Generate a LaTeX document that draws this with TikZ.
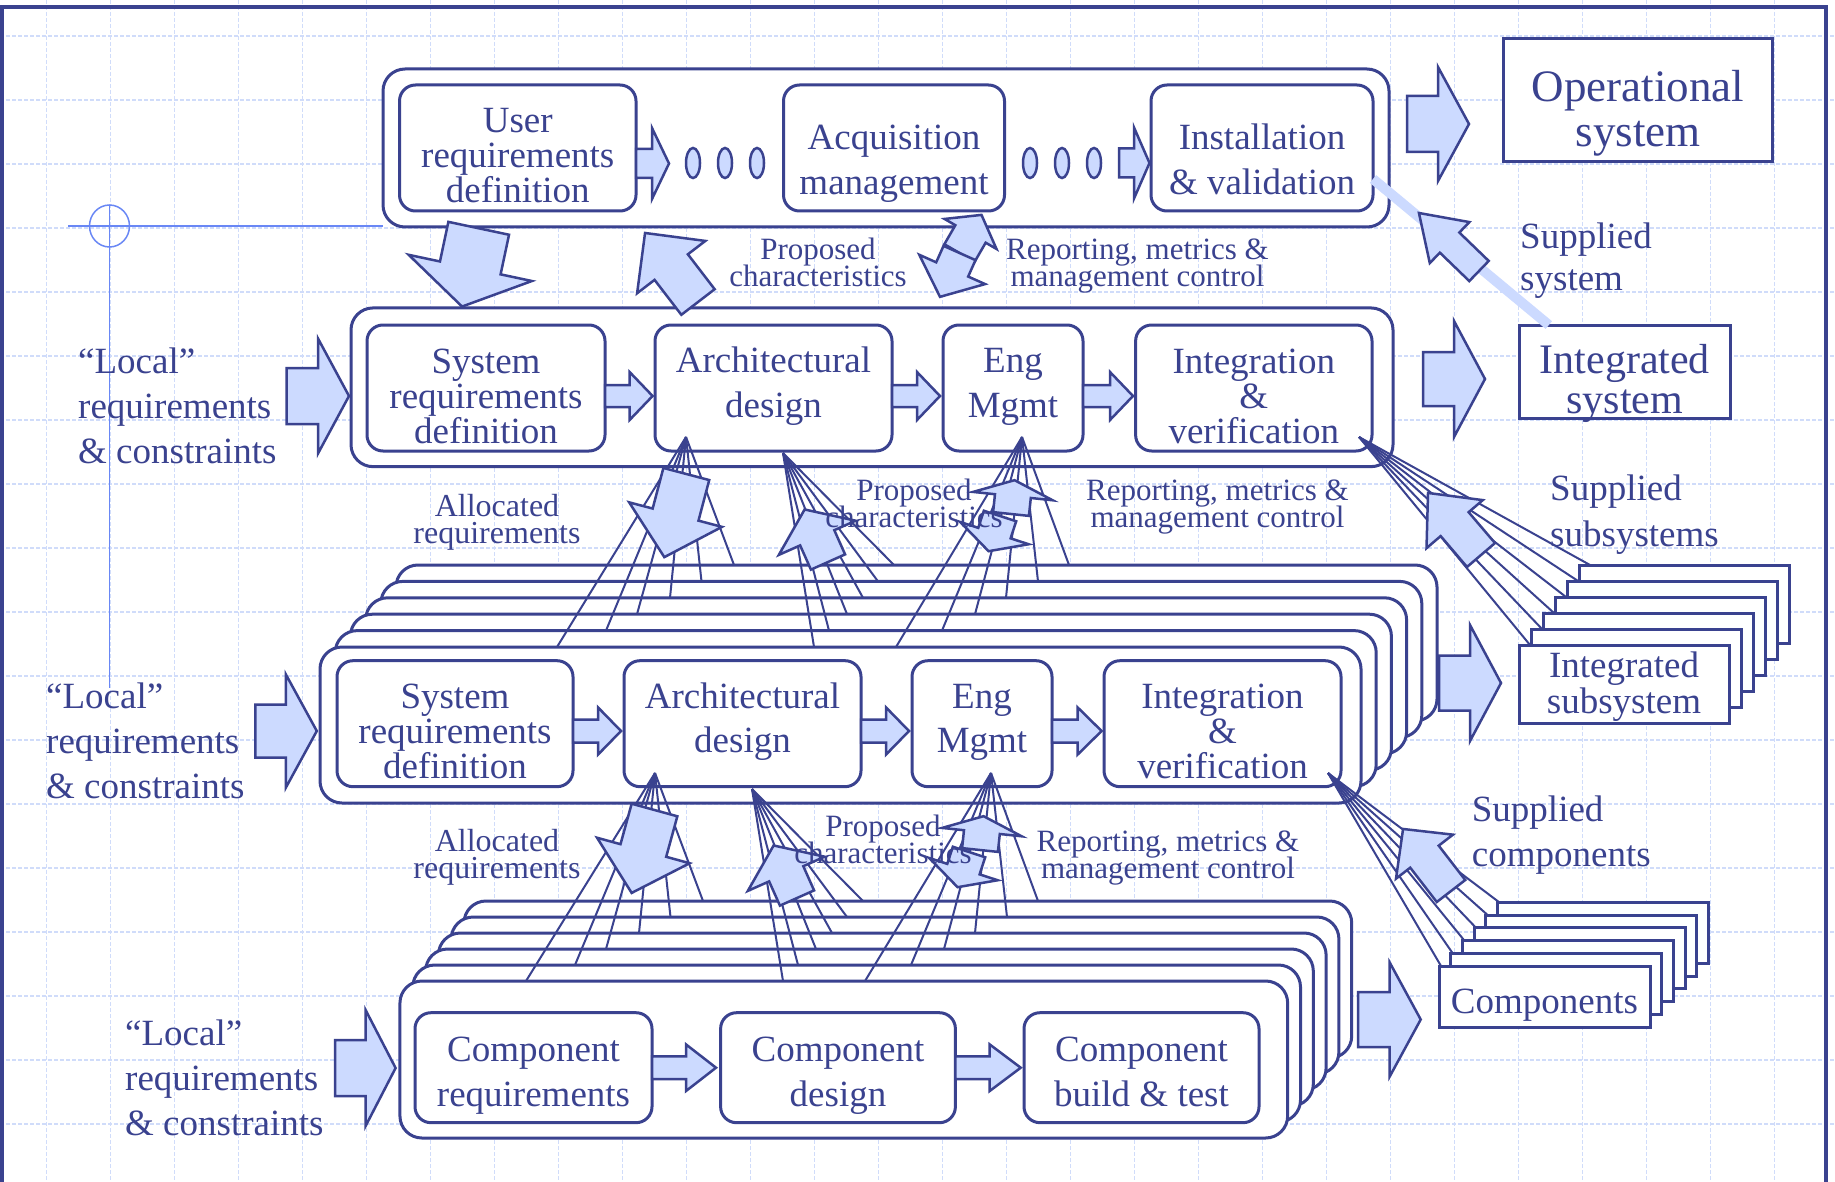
\documentclass[tikz,border=0pt]{standalone}
\usepackage{fontspec}
\setmainfont{Liberation Serif}
\usetikzlibrary{calc}

\definecolor{navy}{RGB}{58,66,143}
\definecolor{pale}{RGB}{204,218,255}
\definecolor{gridblue}{RGB}{208,220,250}
\definecolor{crossblue}{RGB}{105,135,245}

\lineskiplimit=-100pt
\newcommand\trioFont{\fontsize{37}{35}\selectfont}
\newcommand\duoFont{\fontsize{37}{44.5}\selectfont}
\newcommand\sideFont{\fontsize{37}{45}\selectfont}
\newcommand\tagFont{\fontsize{31}{27}\selectfont}
\newcommand\allocFont{\fontsize{32}{26.5}\selectfont}

% block arrow: tail, angle, length, body half width, head half width, head length
\newcommand\fatarrow[6]{%
  \draw[blockarr, shift={#1}, rotate=#2]
    (0,#4) -- ({#3-#6},#4) -- ({#3-#6},#5) -- (#3,0)
    -- ({#3-#6},-#5) -- ({#3-#6},-#4) -- (0,-#4) -- cycle;}

\begin{document}
\begin{tikzpicture}[x=1pt,y=-1pt,
  procbox/.style={draw=navy,line width=3pt,fill=white,rounded corners=16pt,inner sep=0pt,outer sep=0pt,align=center,text=navy},
  levelframe/.style={draw=navy,line width=3pt,fill=white,rounded corners=22pt,inner sep=0pt,outer sep=0pt},
  prodbox/.style={draw=navy,line width=3pt,fill=white,inner sep=0pt,outer sep=0pt,align=center,text=navy},
  blockarr/.style={draw=navy,line width=2.5pt,fill=pale,line join=miter},
  fanline/.style={draw=navy,line width=2pt},
  tag/.style={text=navy,inner sep=0pt,align=center},
  gridline/.style={draw=gridblue,line width=1.2pt,dash pattern=on 4pt off 2pt},
  crossline/.style={draw=crossblue,line width=1.5pt}]

\useasboundingbox (0,0) rectangle (1835,1182);
\fill[white] (0,0) rectangle (1835,1182);

% background grid and frame
\foreach \x in {46.5,110.5,...,1835} \draw[gridline] (\x,0) -- (\x,1182);
\foreach \y in {36,100,...,1182} \draw[gridline] (0,\y) -- (1835,\y);
\draw[navy,line width=4.5pt] (2,1200) -- (2,7) -- (1826,7) -- (1826,1200);

% crosshair
\draw[crossline] (68,226) -- (383,226);
\draw[crossline] (109.5,226) ellipse [x radius=20pt, y radius=21pt];
\draw[crossline] (109.5,205) -- (109.5,688);

%% system of interest
\node[levelframe,minimum width=1006pt,minimum height=158pt] (topframe) at (886,148) {};
\node[procbox,minimum width=236.5pt,minimum height=126pt,font=\trioFont,text height=110pt,text depth=0pt] (user) at (517.75,148) {User\\requirements\\definition};
\node[procbox,minimum width=221pt,minimum height=126pt,font=\sideFont,text height=94pt,text depth=0pt] (acq) at (894,148) {Acquisition\\management};
\node[procbox,minimum width=222pt,minimum height=126pt,font=\sideFont,text height=94pt,text depth=0pt] (inst) at (1262,148) {Installation\\\& validation};
\fatarrow{([yshift=-15.5pt]user.east)}{0}{33}{14.5}{35.5}{17}
\fatarrow{(1119,163)}{0}{30.5}{14.5}{35.5}{15.5}
\foreach \x in {693,725,757,1030,1062,1094}
  \draw[blockarr] (\x,163) ellipse [x radius=7pt, y radius=15pt];

\node[prodbox,minimum width=269.6pt,minimum height=123.6pt,font=\fontsize{45}{45}\selectfont,text height=94pt,text depth=0pt] (opsys) at (1638,100) {Operational\\system};
\fatarrow{(1407,124)}{0}{62}{28}{57}{31}

%% subsystem stack (drawn back to front)
\foreach \k in {5,4,3,2,1}
  \draw[levelframe] ({320+15.2*\k},{647-16.4*\k}) rectangle ({1361+15.2*\k},{803-16.4*\k});
\node[levelframe,minimum width=1041pt,minimum height=156pt] (subframe) at (840.5,725) {};
\node[procbox,minimum width=236pt,minimum height=126pt,font=\trioFont,text height=110pt,text depth=0pt] (sysreqB) at (455,723.7) {System\\requirements\\definition};
\node[procbox,minimum width=237pt,minimum height=126pt,font=\duoFont,text height=58pt,text depth=0pt] (archB) at (742.5,723.7) {Architectural\\design};
\node[procbox,minimum width=140pt,minimum height=126pt,font=\duoFont,text height=58pt,text depth=0pt] (engB) at (982,723.7) {Eng\\Mgmt};
\node[procbox,minimum width=237pt,minimum height=126pt,font=\trioFont,text height=110pt,text depth=0pt] (integB) at (1222.5,723.7) {Integration\\\&\\verification};
\fatarrow{([yshift=-7.3pt]sysreqB.east)}{0}{48}{11.5}{23.6}{23}
\fatarrow{([yshift=-7.3pt]archB.east)}{0}{48}{11.5}{23.6}{23}
\fatarrow{([yshift=-7.3pt]engB.east)}{0}{49.6}{11.5}{23.6}{24}
\fatarrow{(255.4,731)}{0}{61.4}{26.5}{56.7}{31}
\fatarrow{(1439,683)}{0}{62}{27.5}{58}{31}

\foreach \k in {5,4,3,2,1}
  \draw[prodbox] ({1519+12*\k},{645-16*\k}) rectangle ({1729+12*\k},{723-16*\k});
\node[prodbox,minimum width=210pt,minimum height=78pt,font=\fontsize{37}{36}\selectfont,text height=58pt,text depth=0pt] (intsub) at (1624,684) {Integrated\\subsystem};

%% component stack
\foreach \k in {5,4,3,2,1}
  \draw[levelframe] ({400+12.8*\k},{981-16*\k}) rectangle ({1287.7+12.8*\k},{1138-16*\k});
\node[levelframe,minimum width=887.7pt,minimum height=157pt] (compframe) at (843.8,1059.5) {};
\node[procbox,minimum width=237pt,minimum height=110pt,font=\sideFont,text height=78pt,text depth=0pt] (compreq) at (533.5,1067.7) {Component\\requirements};
\node[procbox,minimum width=234.8pt,minimum height=110pt,font=\sideFont,text height=78pt,text depth=0pt] (compdes) at (838,1067.7) {Component\\design};
\node[procbox,minimum width=235pt,minimum height=110pt,font=\sideFont,text height=78pt,text depth=0pt] (compbuild) at (1141.5,1067.7) {Component\\build \& test};
\fatarrow{(compreq.east)}{0}{64}{11.3}{23.3}{30}
\fatarrow{(compdes.east)}{0}{65.3}{11.3}{23.3}{31}
\fatarrow{(335,1068)}{0}{60.6}{28}{58}{30}
\fatarrow{(1358,1019.5)}{0}{62.7}{27.5}{57}{31}

\foreach \k in {5,4,3,2,1}
  \draw[prodbox] ({1439+11.7*\k},{966-12.7*\k}) rectangle ({1650+11.7*\k},{1027-12.7*\k});
\node[prodbox,minimum width=211pt,minimum height=61pt,font=\fontsize{37}{37}\selectfont,text height=36pt,text depth=3pt] (comps) at (1544.5,996.5) {Components};

%% system level
\node[levelframe,minimum width=1042pt,minimum height=158.7pt] (sysframe) at (872,387.3) {};
\node[procbox,minimum width=238pt,minimum height=126pt,font=\trioFont,text height=110pt,text depth=0pt] (sysreq) at (486,388) {System\\requirements\\definition};
\node[procbox,minimum width=237pt,minimum height=126pt,font=\duoFont,text height=58pt,text depth=0pt] (arch) at (773.5,388) {Architectural\\design};
\node[procbox,minimum width=140pt,minimum height=126pt,font=\duoFont,text height=58pt,text depth=0pt] (eng) at (1013,388) {Eng\\Mgmt};
\node[procbox,minimum width=236.4pt,minimum height=126pt,font=\trioFont,text height=110pt,text depth=0pt] (integ) at (1253.8,388) {Integration\\\&\\verification};
\fatarrow{([yshift=-8pt]sysreq.east)}{0}{47.6}{11}{24}{23}
\fatarrow{([yshift=-8pt]arch.east)}{0}{48}{11}{24}{23}
\fatarrow{([yshift=-8pt]eng.east)}{0}{50}{11}{24}{23}
\fatarrow{(286.6,396)}{0}{62.4}{28}{57.5}{31}
\fatarrow{(1423,379)}{0}{62}{27}{58}{31}

\node[prodbox,minimum width=211.6pt,minimum height=93.7pt,font=\fontsize{42}{40}\selectfont,text height=84pt,text depth=0pt] (intsys) at (1624.8,371.9) {Integrated\\system};

%% fans down to the stacks
\coordinate (fanA) at (686,437);
\coordinate (fanB) at (783,453);
\coordinate (fanC) at (1022,437);
\coordinate (fanD) at (1359,437);
\foreach \k/\x in {0/557,1/606,2/637,3/670,4/701.5,5/734} \draw[fanline] (fanA) -- (\x,{647-16.4*\k});
\foreach \k/\x in {0/814,1/829,2/847,3/863,4/878,5/894} \draw[fanline] (fanB) -- (\x,{647-16.4*\k});
\foreach \k/\x in {0/896,1/942,2/975,3/1006,4/1038,5/1069} \draw[fanline] (fanC) -- (\x,{647-16.4*\k});
\foreach \k in {0,...,5} \draw[fanline] (fanD) -- ({1530+12*\k},{645-16*\k});

\coordinate (fanA3) at (655,773);
\coordinate (fanB3) at (752,789);
\coordinate (fanC3) at (991,773);
\coordinate (fanD3) at (1328,773);
\foreach \k/\x in {0/526,1/575,2/606,3/639,4/670.5,5/703} \draw[fanline] (fanA3) -- (\x,{981-16*\k});
\foreach \k/\x in {0/783,1/798,2/816,3/832,4/847,5/863} \draw[fanline] (fanB3) -- (\x,{981-16*\k});
\foreach \k/\x in {0/865,1/911,2/944,3/975,4/1007,5/1038} \draw[fanline] (fanC3) -- (\x,{981-16*\k});
\foreach \k in {0,...,5} \draw[fanline] (fanD3) -- ({1441+11.7*\k},{966-12.7*\k});

%% flows between levels
\fatarrow{(478.7,228.3)}{-102}{80}{31}{63}{39.5}
\fatarrow{(698,302)}{127.5}{87}{21}{43}{43}
\fatarrow{(959.5,253)}{60}{44}{17.5}{30}{22}
\fatarrow{(959.5,253)}{-114}{48}{17.5}{36}{30}

\fatarrow{(686.3,474)}{-104.8}{86}{23.7}{48}{44}
\fatarrow{(828,562)}{114}{57.5}{18.7}{42}{31}
\fatarrow{(1011,514)}{84}{34}{18}{40}{16}
\fatarrow{(1000,516)}{-108}{37}{17}{36}{19}

\fatarrow{(654.5,810)}{-105.4}{86}{23.7}{48}{44}
\fatarrow{(797,898)}{114}{57.5}{18.7}{42}{31}
\fatarrow{(980,850)}{84}{34}{18}{40}{16}
\fatarrow{(969,852)}{-108}{37}{17}{36}{19}

\fatarrow{(1481,555)}{130.5}{81.6}{18.4}{37}{41}
\fatarrow{(1451,891)}{127.7}{78.4}{18}{36}{35}

% supplied system goes back up to installation
\draw[pale,line width=10pt] ([yshift=-31pt]inst.east) -- ([xshift=-76pt]intsys.north);
\fatarrow{(1479,271)}{136}{83.5}{14}{28.5}{42.6}

%% labels
\node[tag,anchor=base,font=\tagFont] (propA) at (818,287) {Proposed\\characteristics};
\node[tag,anchor=base,font=\tagFont] (repA) at (1137.5,287) {Reporting, metrics \&\\management control};
\node[tag,anchor=base,font=\allocFont] (allocB) at (497,543) {Allocated\\requirements};
\node[tag,anchor=base,font=\tagFont] (propB) at (914,527) {Proposed\\characteristics};
\node[tag,anchor=base,font=\tagFont] (repB) at (1217.5,527) {Reporting, metrics \&\\management control};
\node[tag,anchor=base,font=\allocFont] (allocC) at (497,878) {Allocated\\requirements};
\node[tag,anchor=base,font=\tagFont] (propC) at (883,863) {Proposed\\characteristics};
\node[tag,anchor=base,font=\tagFont] (repC) at (1168,878) {Reporting, metrics \&\\management control};
\node[tag,anchor=base west,align=left,font=\sideFont] (localB) at (78,463) {“Local”\\requirements\\\& constraints};
\node[tag,anchor=base west,align=left,font=\sideFont] (localC) at (46,798) {“Local”\\requirements\\\& constraints};
\node[tag,anchor=base west,align=left,font=\sideFont] (localD) at (125,1135) {“Local”\\requirements\\\& constraints};
\node[tag,anchor=base west,align=left,font=\fontsize{37}{42}\selectfont] (supA) at (1520,290) {Supplied\\system};
\node[tag,anchor=base west,align=left,font=\fontsize{37}{46.5}\selectfont] (supB) at (1550,546.5) {Supplied\\subsystems};
\node[tag,anchor=base west,align=left,font=\sideFont] (supC) at (1471.7,866.7) {Supplied\\components};

\end{tikzpicture}
\end{document}
